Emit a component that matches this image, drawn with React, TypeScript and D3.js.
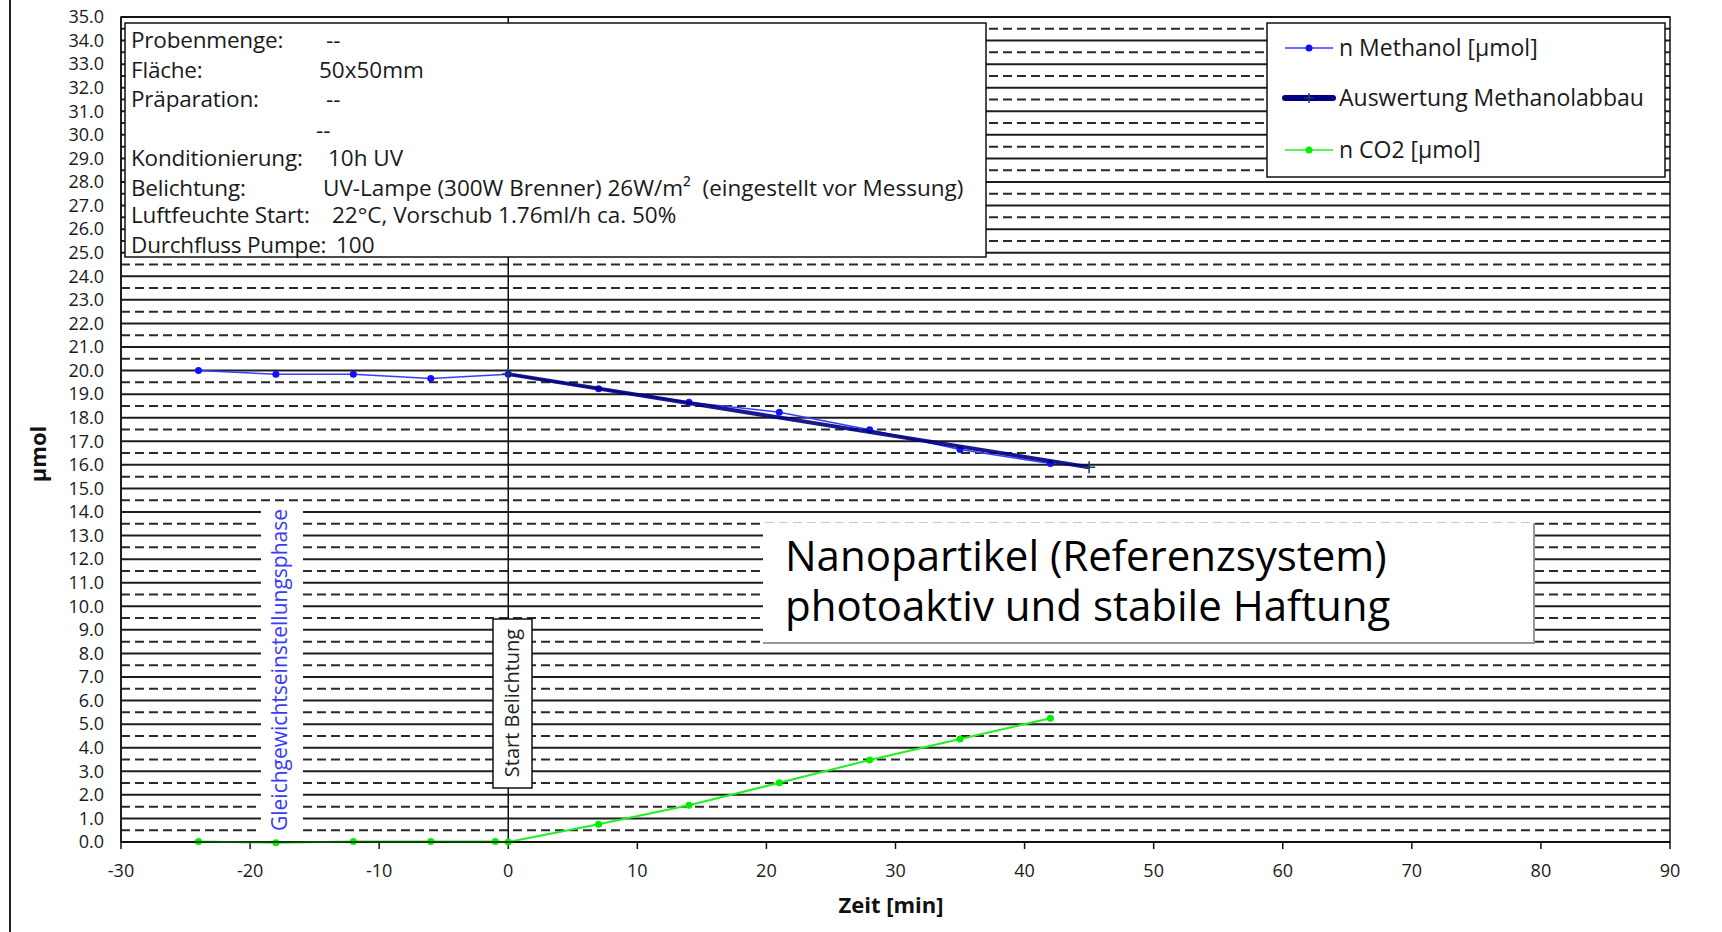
import React from 'react';
import * as d3 from 'd3';

// ---- data ----
const methanolTime = [-24, -18, -12, -6, 0, 7, 14, 21, 28, 35, 42];
const methanolValues = [20.0, 19.84, 19.84, 19.66, 19.84, 19.23, 18.66, 18.23, 17.49, 16.65, 16.06];
const fitTime = [0, 45];
const fitValues = [19.85, 15.9];
const co2Time = [-24, -18, -12, -6, -1, 0, 7, 14, 21, 28, 35, 42];
const co2Values = [0.02, -0.03, 0.02, 0.02, 0.02, 0, 0.75, 1.56, 2.51, 3.48, 4.37, 5.25];
const xTicks = [-30, -20, -10, 0, 10, 20, 30, 40, 50, 60, 70, 80, 90];
const yTicks = d3.range(0, 36, 1);
const yHalfTicks = d3.range(0.5, 35, 1);
const legendLabels = ['n Methanol [µmol]', 'Auswertung Methanolabbau', 'n CO2 [µmol]'];
const infoLabels = ['Probenmenge:', 'Fläche:', 'Präparation:', '', 'Konditionierung:', 'Belichtung:', 'Luftfeuchte Start:', 'Durchfluss Pumpe:'];
const infoValues = ['--', '50x50mm', '--', '--', '10h UV', 'UV-Lampe (300W Brenner) 26W/m²  (eingestellt vor Messung)', '22°C, Vorschub 1.76ml/h ca. 50%', '100'];
const annotationLines = ['Nanopartikel (Referenzsystem)', 'photoaktiv und stabile Haftung'];
const phaseLabel = 'Gleichgewichtseinstellungsphase';
const startLabel = 'Start Belichtung';
const xTitle = 'Zeit [min]';
const yTitle = 'µmol';

const FONT = '"Open Sans", "Noto Sans", sans-serif';

export default function App() {
  const W = 1722, H = 932;
  const L = 121, R = 1670, T = 17, B = 842;
  const x = d3.scaleLinear().domain([-30, 90]).range([L, R]);
  const y = d3.scaleLinear().domain([0, 35]).range([B, T]);

  const lineGen = d3.line<[number, number]>().x(d => x(d[0])).y(d => y(d[1]));
  const meth = methanolTime.map((t, i) => [t, methanolValues[i]] as [number, number]);
  const fit = fitTime.map((t, i) => [t, fitValues[i]] as [number, number]);
  const co2 = co2Time.map((t, i) => [t, co2Values[i]] as [number, number]);

  const infoValueX = [326, 319, 326, 316, 328, 323, 332, 336];
  const infoY = [40, 70, 99, 130, 158, 188, 215, 245];

  const legendY = [48, 98, 150];

  return (
    <svg width={W} height={H} style={{ position: 'absolute', left: 0, top: 0, background: '#fff' }} fontFamily={FONT}>
      <rect x={0} y={0} width={W} height={H} fill="#fff" />
      <line x1={10} x2={10} y1={0} y2={H} stroke="#222" strokeWidth={2} />

      {/* gridlines */}
      {yTicks.filter(v => v > 0).map(v => (
        <line key={'g' + v} x1={L} x2={R} y1={y(v)} y2={y(v)} stroke="#1e1e1e" strokeWidth={2} />
      ))}
      {yHalfTicks.map(v => (
        <line key={'h' + v} x1={L} x2={R} y1={y(v)} y2={y(v)} stroke="#2a2a2a" strokeWidth={2} strokeDasharray="9,5" />
      ))}

      {/* vertical line at start */}
      <line x1={x(0)} x2={x(0)} y1={T} y2={B} stroke="#111" strokeWidth={1.5} />

      {/* info box */}
      <rect x={125} y={23} width={861} height={234} fill="#fff" stroke="#111" strokeWidth={1.5} />
      {infoLabels.map((lab, i) => (
        <g key={'i' + i} fontSize={22.5} fill="#1a1a1a">
          <text x={131} y={infoY[i]} dy="0.35em" letterSpacing={-0.2}>{lab}</text>
          <text x={infoValueX[i]} y={infoY[i]} dy="0.35em" style={{ whiteSpace: 'pre' }}>{infoValues[i]}</text>
        </g>
      ))}

      {/* legend box */}
      <rect x={1267} y={23} width={398} height={154} fill="#fff" stroke="#111" strokeWidth={1.5} />
      <g>
        <line x1={1285} x2={1333} y1={legendY[0]} y2={legendY[0]} stroke="#3b3bff" strokeWidth={1.5} />
        <circle cx={1309} cy={legendY[0]} r={3.5} fill="#1010ff" />
        <line x1={1285} x2={1333} y1={legendY[1]} y2={legendY[1]} stroke="#000080" strokeWidth={6} strokeLinecap="round" />
        <path d={`M1309,${legendY[1] - 5}V${legendY[1] + 5}M1304,${legendY[1]}H1314`} stroke="#1a3a6a" strokeWidth={1.5} />
        <line x1={1285} x2={1333} y1={legendY[2]} y2={legendY[2]} stroke="#22ee22" strokeWidth={1.5} />
        <circle cx={1309} cy={legendY[2]} r={3.5} fill="#00ee00" />
        {legendLabels.map((lab, i) => (
          <text key={'l' + i} x={1339} y={legendY[i]} dy="0.35em" fontSize={23} fill="#1a1a1a">{lab}</text>
        ))}
      </g>

      {/* annotation box */}
      <rect x={763} y={523} width={771} height={120} fill="#fff" />
      <path d="M1534,523V643H763" fill="none" stroke="#999" strokeWidth={2} />
      {annotationLines.map((t, i) => (
        <text key={'a' + i} x={785} y={571 + i * 50} fontSize={42} fill="#000">{t}</text>
      ))}

      {/* phase label */}
      <rect x={261} y={505} width={42} height={331} fill="#fff" />
      <text transform={`translate(${287},${670}) rotate(-90)`} textAnchor="middle" fontSize={21} fill="#3a3aff">{phaseLabel}</text>

      {/* start label */}
      <rect x={493} y={619} width={39} height={169} fill="#fff" stroke="#111" strokeWidth={1.5} />
      <text transform={`translate(${519},${703}) rotate(-90)`} textAnchor="middle" fontSize={20} fill="#222">{startLabel}</text>

      {/* axes */}
      <line x1={L} x2={L} y1={T} y2={B} stroke="#111" strokeWidth={1.5} />
      <line x1={L} x2={R} y1={B} y2={B} stroke="#111" strokeWidth={2} />
      {xTicks.map(t => (
        <g key={'xt' + t}>
          <line x1={x(t)} x2={x(t)} y1={B} y2={B + 7} stroke="#111" strokeWidth={1.5} />
          <text x={x(t)} y={871} dy="0.35em" textAnchor="middle" fontSize={18} fill="#1a1a1a">{t}</text>
        </g>
      ))}
      {yTicks.map(v => (
        <text key={'yt' + v} x={104} y={y(v)} dy="0.35em" textAnchor="end" fontSize={18} fill="#1a1a1a">{v.toFixed(1)}</text>
      ))}
      <text x={891} y={905} dy="0.35em" textAnchor="middle" fontSize={22} fontWeight="bold" fill="#111">{xTitle}</text>
      <text transform={`translate(${38},${454}) rotate(-90)`} dy="0.35em" textAnchor="middle" fontSize={22} fontWeight="bold" fill="#111">{yTitle}</text>

      {/* series */}
      <path d={lineGen(co2) || ''} fill="none" stroke="#22ee22" strokeWidth={2} />
      {co2.map((d, i) => <circle key={'c' + i} cx={x(d[0])} cy={y(d[1])} r={3.5} fill="#00ee00" />)}
      <path d={lineGen(meth) || ''} fill="none" stroke="#3b3bff" strokeWidth={1.5} />
      {meth.map((d, i) => <circle key={'m' + i} cx={x(d[0])} cy={y(d[1])} r={3.5} fill="#1010ff" />)}
      <path d={lineGen(fit) || ''} fill="none" stroke="#000080" strokeWidth={4} strokeOpacity={0.9} />
      {fit.map((d, i) => (
        <path key={'f' + i} d={`M${x(d[0])},${y(d[1]) - 6}V${y(d[1]) + 6}M${x(d[0]) - 6},${y(d[1])}H${x(d[0]) + 6}`} stroke="#1a3a6a" strokeWidth={1.5} />
      ))}

      {/* plot border */}
      <rect x={L} y={T} width={R - L} height={B - T} fill="none" stroke="#111" strokeWidth={1.5} />
    </svg>
  );
}
